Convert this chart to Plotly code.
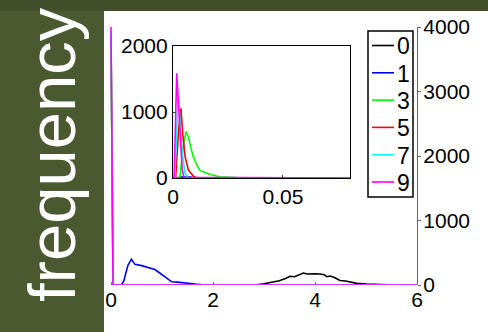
import plotly.graph_objects as go

# ---- data -------------------------------------------------------------
series_names = ["0", "1", "3", "5", "7", "9"]
series_colors = ["#000000", "#0000ff", "#00ff00", "#ff0000", "#00ffff", "#ff00ff"]

# main panel: distribution over 0..6
main_x0 = [0, 2.7, 2.86, 3.0, 3.18, 3.3, 3.42, 3.51, 3.6, 3.7, 3.77, 3.85, 3.95,
           4.0, 4.1, 4.18, 4.23, 4.3, 4.4, 4.49, 4.6, 4.7, 4.82, 5.0, 5.27, 5.6, 6.0]
main_y0 = [0, 0, 5, 20, 40, 65, 100, 135, 128, 165, 185, 170, 180,
           175, 170, 160, 128, 140, 108, 70, 62, 45, 25, 15, 5, 0, 0]

main_x1 = [0, 0.2, 0.25, 0.33, 0.4, 0.47, 0.6, 0.75, 0.86, 0.95, 1.06, 1.19,
           1.3, 1.39, 1.5, 1.65, 1.8, 2.0, 6.0]
main_y1 = [0, 0, 60, 300, 400, 320, 300, 270, 240, 190, 120, 50,
           45, 35, 25, 15, 5, 0, 0]

main_x_spike = [0, 0.04, 6.0]
main_y3 = [3800, 0, 0]
main_y5 = [3900, 0, 0]
main_y7 = [3950, 0, 0]
main_y9 = [4000, 0, 0]

# inset panel: zoom on 0..0.08
ins_x0 = [0, 0.0805]
ins_y0 = [0, 0]

ins_x1 = [0, 0.002, 0.003, 0.008, 0.009, 0.0805]
ins_y1 = [0, 0, 15, 15, 0, 0]

ins_x3 = [0, 0.0025, 0.0032, 0.0045, 0.0059, 0.007, 0.008, 0.0092, 0.0108,
          0.0123, 0.0138, 0.0153, 0.0183, 0.0214, 0.029, 0.035, 0.0805]
ins_y3 = [0, 0, 20, 450, 702, 626, 475, 323, 197,
          111, 96, 71, 41, 20, 5, 0, 0]

ins_x5 = [0, 0.0012, 0.0025, 0.0036, 0.0044, 0.0055, 0.007, 0.0092, 0.011, 0.0805]
ins_y5 = [0, 0, 700, 1056, 677, 323, 121, 30, 0, 0]

ins_x7 = [0, 0.0008, 0.0024, 0.004, 0.0055, 0.007, 0.0805]
ins_y7 = [0, 0, 1280, 424, 70, 0, 0]

ins_x9 = [0, 0.0005, 0.0017, 0.0025, 0.0033, 0.0042, 0.005, 0.0805]
ins_y9 = [0, 0, 1586, 1100, 500, 120, 10, 0]

main_xticks = [0, 2, 4, 6]
main_yticks = [0, 1000, 2000, 3000, 4000]
ins_xticks = [0, 0.05]
ins_xticklabels = ["0", "0.05"]
ins_yticks = [0, 1000, 2000]

# ---- figure -----------------------------------------------------------
W, H = 488, 332
FONT = "Liberation Sans, Arial, sans-serif"


def px_x(p):
    return p / W


def px_y(p):
    return (H - p) / H


main_sets = [(main_x0, main_y0), (main_x1, main_y1), (main_x_spike, main_y3),
             (main_x_spike, main_y5), (main_x_spike, main_y7), (main_x_spike, main_y9)]
ins_sets = [(ins_x0, ins_y0), (ins_x1, ins_y1), (ins_x3, ins_y3),
            (ins_x5, ins_y5), (ins_x7, ins_y7), (ins_x9, ins_y9)]

fig = go.Figure()
for name, color, (xs, ys) in zip(series_names, series_colors, main_sets):
    fig.add_trace(go.Scatter(x=xs, y=ys, mode="lines", name=name,
                             line=dict(color=color, width=1.6),
                             xaxis="x", yaxis="y"))
for name, color, (xs, ys) in zip(series_names, series_colors, ins_sets):
    fig.add_trace(go.Scatter(x=xs, y=ys, mode="lines", name=name,
                             line=dict(color=color, width=1.6),
                             xaxis="x2", yaxis="y2"))

tickfont = dict(family=FONT, size=21, color="black")

# main x range starts a hair below zero so the spike at 0 is not clipped
XMIN = -0.02
PX_PER_UNIT = (417 - 111) / 6.0

shapes = [
    # lighter green side panel
    dict(type="rect", xref="paper", yref="paper", x0=0, x1=px_x(104),
         y0=0, y1=px_y(11), fillcolor="#4b5931", line=dict(width=0),
         layer="below"),
    # white chart panel
    dict(type="rect", xref="paper", yref="paper", x0=px_x(104), x1=1,
         y0=0, y1=px_y(11), fillcolor="white", line=dict(width=0),
         layer="below"),
    # legend box
    dict(type="rect", xref="paper", yref="paper", x0=px_x(368), x1=px_x(413),
         y0=px_y(197), y1=px_y(31), fillcolor="white",
         line=dict(color="black", width=1.5), layer="above"),
]
annotations = [
    dict(text="frequency", xref="paper", yref="paper", x=px_x(51),
         y=px_y(155), xanchor="center", yanchor="middle",
         showarrow=False, textangle=-90,
         font=dict(family=FONT, size=67, color="white")),
]

# legend entries: sample line + label
LEG_TOP, LEG_STEP = 46.5, 27.3
for i, (name, color) in enumerate(zip(series_names, series_colors)):
    yc = LEG_TOP + i * LEG_STEP
    shapes.append(dict(type="line", xref="paper", yref="paper",
                       x0=px_x(372), x1=px_x(394), y0=px_y(yc - 1), y1=px_y(yc - 1),
                       line=dict(color=color, width=1.6), layer="above"))
    annotations.append(dict(text=name, xref="paper", yref="paper",
                            x=px_x(395), y=px_y(yc), xanchor="left",
                            yanchor="middle", showarrow=False,
                            font=dict(family=FONT, size=23, color="black")))

fig.update_layout(
    template="none",
    width=W, height=H,
    margin=dict(l=0, r=0, t=0, b=0, autoexpand=False),
    paper_bgcolor="#434f2b",
    plot_bgcolor="white",
    showlegend=False,
    xaxis=dict(domain=[px_x(111 + XMIN * PX_PER_UNIT), px_x(417)], range=[XMIN, 6],
               tickvals=main_xticks, ticks="inside", ticklen=3, tickcolor="#777",
               showline=False, showgrid=False, zeroline=False, tickfont=tickfont,
               anchor="y", automargin=False),
    yaxis=dict(domain=[px_y(285), px_y(27)], range=[0, 4000], tickvals=main_yticks,
               side="right", ticks="outside", ticklen=3, tickcolor="#666",
               showline=True, linecolor="#666", linewidth=1.2,
               showgrid=False, zeroline=False, tickfont=tickfont,
               ticklabelstandoff=-2, anchor="x", automargin=False),
    xaxis2=dict(domain=[px_x(173), px_x(350)], range=[0, 0.0805],
                tickvals=ins_xticks, ticktext=ins_xticklabels,
                ticks="inside", ticklen=3, showline=True, linecolor="black",
                linewidth=1.2, mirror=True, showgrid=False, zeroline=False,
                tickfont=tickfont, anchor="y2", automargin=False),
    yaxis2=dict(domain=[px_y(178), px_y(46)], range=[0, 2000], tickvals=ins_yticks,
                ticks="inside", ticklen=3, showline=True, linecolor="black",
                linewidth=1.2, mirror=True, showgrid=False, zeroline=False,
                tickfont=tickfont, anchor="x2", automargin=False),
    shapes=shapes,
    annotations=annotations,
)

fig.write_html("out.html")
